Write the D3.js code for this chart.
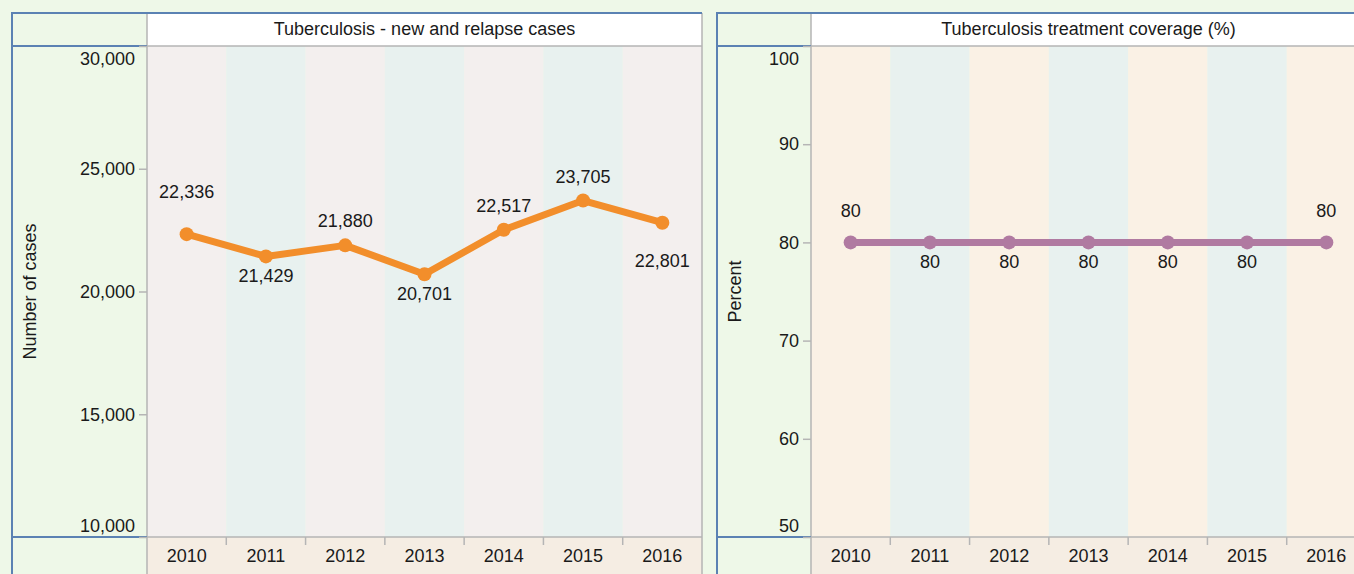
<!DOCTYPE html>
<html>
<head>
<meta charset="utf-8">
<script src="https://cdn.jsdelivr.net/npm/d3@7"></script>
<style>
  body { margin: 0; background: #eef8e8; }
  svg { display: block; font-family: "Liberation Sans", Arial, sans-serif; }
  .tick text { font-size: 18px; fill: #1a1a1a; }
</style>
</head>
<body>
<div class="chart"></div>
<script>
// chart values
var years = ["2010", "2011", "2012", "2013", "2014", "2015", "2016"];
var tbCases = [22336, 21429, 21880, 20701, 22517, 23705, 22801];
var tbCoverage = [80, 80, 80, 80, 80, 80, 80];
var casesTicks = [10000, 15000, 20000, 25000, 30000];
var coverageTicks = [50, 60, 70, 80, 90, 100];
var casesLabelSide = ["above", "below", "above", "below", "above", "above", "below"];
var coverageLabelSide = ["above", "below", "below", "below", "below", "below", "above"];

var svgWidth = 1354;
var svgHeight = 574;

var blue = "#5b82b3";
var gray = "#b5b5b5";

var svg = d3.select(".chart")
  .append("svg")
  .attr("width", svgWidth)
  .attr("height", svgHeight);

//Draw one panel (title row, y-axis column, plot area, x-axis row)
function drawPanel(p) {
  var top = 13, titleH = 33, plotH = 491, axisH = 37;
  var plotX = p.x0 + p.cornerW;
  var plotW = 555;
  var plotTop = top + titleH;
  var plotBottom = plotTop + plotH;

  var g = svg.append("g");

  var xScale = d3.scaleBand().domain(years).range([plotX, plotX + plotW]);
  var yScale = d3.scaleLinear().domain(p.domain).range([plotBottom, plotTop]);
  var bw = xScale.bandwidth();

  // title cell
  g.append("rect")
    .attr("x", plotX).attr("y", top)
    .attr("width", plotW).attr("height", titleH)
    .attr("fill", "#ffffff");
  g.append("text")
    .attr("x", plotX + plotW / 2)
    .attr("y", top + titleH / 2 - 1)
    .attr("text-anchor", "middle")
    .attr("dominant-baseline", "central")
    .attr("font-size", "18px")
    .attr("fill", "#1a1a1a")
    .text(p.title);

  // alternating year columns
  g.selectAll(".band").data(years).enter().append("rect")
    .attr("x", function(d) { return xScale(d); })
    .attr("y", plotTop)
    .attr("width", bw)
    .attr("height", plotH)
    .attr("fill", function(d, i) { return i % 2 === 0 ? p.bandColor : "#e8f1ef"; });

  // x-axis row
  g.append("rect")
    .attr("x", plotX).attr("y", plotBottom)
    .attr("width", plotW).attr("height", axisH)
    .attr("fill", "#f5ede3");

  // gray frame lines
  g.append("line").attr("x1", plotX).attr("x2", plotX + plotW)
    .attr("y1", plotTop).attr("y2", plotTop).attr("stroke", gray).attr("stroke-width", 1.5);
  g.append("line").attr("x1", plotX).attr("x2", plotX + plotW)
    .attr("y1", plotBottom).attr("y2", plotBottom).attr("stroke", gray).attr("stroke-width", 1.5);
  g.append("line").attr("x1", plotX).attr("x2", plotX)
    .attr("y1", top).attr("y2", svgHeight).attr("stroke", gray).attr("stroke-width", 1.5);
  g.append("line").attr("x1", plotX + plotW).attr("x2", plotX + plotW)
    .attr("y1", top).attr("y2", svgHeight).attr("stroke", gray).attr("stroke-width", 1.5);

  // blue frame lines
  g.append("line").attr("x1", p.x0).attr("x2", p.x0)
    .attr("y1", top).attr("y2", svgHeight).attr("stroke", blue).attr("stroke-width", 2);
  g.append("line").attr("x1", p.x0 - 1).attr("x2", plotX + plotW)
    .attr("y1", top).attr("y2", top).attr("stroke", blue).attr("stroke-width", 2);
  g.append("line").attr("x1", p.x0).attr("x2", plotX)
    .attr("y1", plotTop).attr("y2", plotTop).attr("stroke", blue).attr("stroke-width", 2);
  g.append("line").attr("x1", p.x0).attr("x2", plotX)
    .attr("y1", plotBottom).attr("y2", plotBottom).attr("stroke", blue).attr("stroke-width", 2);

  // y axis
  var leftAxis = d3.axisLeft(yScale)
    .tickValues(p.ticks)
    .tickSize(8)
    .tickPadding(4)
    .tickFormat(d3.format(","));
  var yAxis = g.append("g")
    .attr("transform", "translate(" + plotX + ",0)")
    .call(leftAxis);
  yAxis.select(".domain").remove();
  yAxis.selectAll(".tick line").attr("stroke", gray).attr("stroke-width", 1.5);
  yAxis.selectAll(".tick text")
    .attr("dy", function(d) {
      if (d === p.domain[1]) return "1.0em";
      if (d === p.domain[0]) return "-0.3em";
      return "0.32em";
    });

  // y axis title
  g.append("text")
    .attr("transform", "translate(" + (p.x0 + 24) + "," + ((plotTop + plotBottom) / 2) + ") rotate(-90)")
    .attr("text-anchor", "middle")
    .attr("font-size", "18px")
    .attr("fill", "#1a1a1a")
    .text(p.yTitle);

  // x axis labels
  var bottomAxis = d3.axisBottom(xScale).tickSize(0).tickPadding(12);
  var xAxis = g.append("g")
    .attr("transform", "translate(0," + plotBottom + ")")
    .call(bottomAxis);
  xAxis.select(".domain").remove();

  // x tick marks between years
  g.selectAll(".xtick").data(years.slice(1)).enter().append("line")
    .attr("x1", function(d) { return xScale(d); })
    .attr("x2", function(d) { return xScale(d); })
    .attr("y1", plotBottom)
    .attr("y2", plotBottom + 8)
    .attr("stroke", gray)
    .attr("stroke-width", 1.5);

  // the series
  var line = d3.line()
    .x(function(d, i) { return xScale(years[i]) + bw / 2; })
    .y(function(d) { return yScale(d); });

  g.append("path")
    .datum(p.values)
    .attr("d", line)
    .attr("fill", "none")
    .attr("stroke", p.color)
    .attr("stroke-width", 7)
    .attr("stroke-linejoin", "round");

  g.selectAll(".pt").data(p.values).enter().append("circle")
    .attr("cx", function(d, i) { return xScale(years[i]) + bw / 2; })
    .attr("cy", function(d) { return yScale(d); })
    .attr("r", 7)
    .attr("fill", p.color);

  // value labels
  g.selectAll(".lbl").data(p.values).enter().append("text")
    .attr("x", function(d, i) { return xScale(years[i]) + bw / 2; })
    .attr("y", function(d, i) {
      var end = (i === 0 || i === years.length - 1) ? p.endGap : 0;
      if (p.sides[i] === "above") return yScale(d) - 24 - end;
      return yScale(d) + 20 + end;
    })
    .attr("text-anchor", "middle")
    .attr("dominant-baseline", "central")
    .attr("font-size", "18px")
    .attr("fill", "#1a1a1a")
    .text(function(d) { return d3.format(",")(d); });
}

drawPanel({
  x0: 12, cornerW: 135,
  title: "Tuberculosis - new and relapse cases",
  yTitle: "Number of cases",
  domain: [10000, 30000],
  ticks: casesTicks,
  values: tbCases,
  sides: casesLabelSide,
  color: "#f28e2b",
  bandColor: "#f3efee",
  endGap: 18
});

drawPanel({
  x0: 717, cornerW: 94,
  title: "Tuberculosis treatment coverage (%)",
  yTitle: "Percent",
  domain: [50, 100],
  ticks: coverageTicks,
  values: tbCoverage,
  sides: coverageLabelSide,
  color: "#b07aa1",
  bandColor: "#faf1e5",
  endGap: 7
});
</script>
</body>
</html>
